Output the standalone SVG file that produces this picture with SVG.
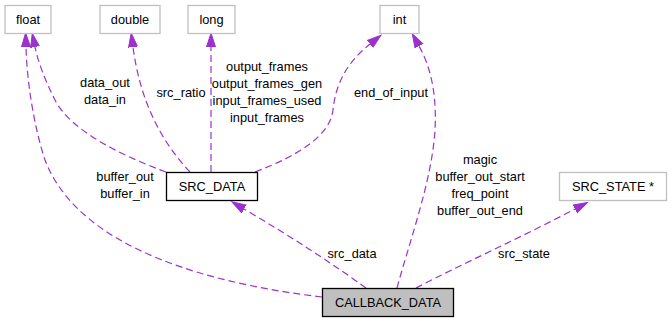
<svg xmlns="http://www.w3.org/2000/svg" width="672" height="323" viewBox="0 0 672 323">
  <style>
    text { font-family: "Liberation Sans", Arial, sans-serif; font-size: 12.8px; fill: #000; }
    .c { text-anchor: middle; }
    .ext rect { fill: #fff; stroke: #bfbfbf; stroke-width: 1.3; }
    .cls rect { fill: #fff; stroke: #000; stroke-width: 1.3; }
    .cur rect { fill: #bfbfbf; stroke: #000; stroke-width: 1.3; }
    .edge { fill: none; stroke: #9a32cd; stroke-width: 1.2; stroke-dasharray: 7 4; marker-end: url(#ah); }
  </style>
  <defs>
    <marker id="ah" markerUnits="userSpaceOnUse" markerWidth="16" markerHeight="12" refX="0" refY="5" orient="auto" viewBox="0 0 16 10">
      <path d="M0,0.5 L14,5 L0,9.5 Z" fill="#9a32cd" stroke="#9a32cd" stroke-width="1"/>
    </marker>
  </defs>

  <!-- connectors -->
  <g id="edges">
    <path class="edge" d="M322,297 C220,285 80,252 45,160 C35,130 27,85 26,47"/>
    <path class="edge" d="M166,172 C120,155 70,130 55,100 C45,80 38,62 35,47"/>
    <path class="edge" d="M190,172 C160,140 140,100 133,47"/>
    <path class="edge" d="M211,172 L211,47"/>
    <path class="edge" d="M255,172 C300,155 330,135 333,110 C336,80 350,60 370,44"/>
    <path class="edge" d="M366,288 C330,262 290,236 244,209"/>
    <path class="edge" d="M397,288 C410,240 432,180 435,130 C437,92 430,66 419,46"/>
    <path class="edge" d="M416,288 C460,265 520,238 575,209"/>
  </g>

  <!-- edge labels -->
  <g id="labels">
    <text class="c" x="125" y="181">buffer_out</text>
    <text class="c" x="125" y="198">buffer_in</text>
    <text class="c" x="105" y="87">data_out</text>
    <text class="c" x="105" y="104">data_in</text>
    <text class="c" x="181" y="97">src_ratio</text>
    <text class="c" x="267" y="71">output_frames</text>
    <text class="c" x="267" y="88">output_frames_gen</text>
    <text class="c" x="267" y="105">input_frames_used</text>
    <text class="c" x="267" y="122">input_frames</text>
    <text class="c" x="391" y="97">end_of_input</text>
    <text class="c" x="352" y="258">src_data</text>
    <text class="c" x="480" y="164">magic</text>
    <text class="c" x="480" y="181">buffer_out_start</text>
    <text class="c" x="480" y="198">freq_point</text>
    <text class="c" x="480" y="215">buffer_out_end</text>
    <text class="c" x="524" y="258">src_state</text>
  </g>

  <!-- nodes -->
  <g id="float" class="ext">
    <rect x="5" y="5.5" width="46" height="28"/>
    <text class="c" x="28" y="24">float</text>
  </g>
  <g id="double" class="ext">
    <rect x="100" y="5.5" width="60" height="28"/>
    <text class="c" x="130" y="24">double</text>
  </g>
  <g id="long" class="ext">
    <rect x="188" y="5.5" width="47" height="28"/>
    <text class="c" x="211.5" y="24">long</text>
  </g>
  <g id="int" class="ext">
    <rect x="380" y="5.5" width="39" height="28"/>
    <text class="c" x="399.5" y="24">int</text>
  </g>
  <g id="SRC_DATA" class="cls">
    <rect x="166.5" y="172.5" width="91" height="28"/>
    <text class="c" x="212" y="191">SRC_DATA</text>
  </g>
  <g id="SRC_STATE" class="ext">
    <rect x="559.5" y="172.5" width="107" height="28"/>
    <text class="c" x="613" y="191">SRC_STATE *</text>
  </g>
  <g id="CALLBACK_DATA" class="cur">
    <rect x="322.5" y="288.5" width="131" height="28"/>
    <text class="c" x="388" y="307">CALLBACK_DATA</text>
  </g>
</svg>
